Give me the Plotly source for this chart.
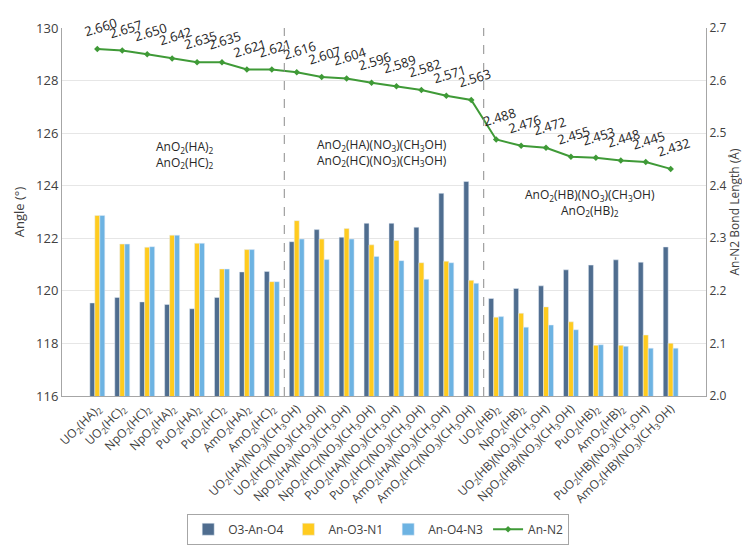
import plotly.graph_objects as go

categories = [
    "UO<sub>2</sub>(HA)<sub>2</sub>", "UO<sub>2</sub>(HC)<sub>2</sub>",
    "NpO<sub>2</sub>(HC)<sub>2</sub>", "NpO<sub>2</sub>(HA)<sub>2</sub>",
    "PuO<sub>2</sub>(HA)<sub>2</sub>", "PuO<sub>2</sub>(HC)<sub>2</sub>",
    "AmO<sub>2</sub>(HA)<sub>2</sub>", "AmO<sub>2</sub>(HC)<sub>2</sub>",
    "UO<sub>2</sub>(HA)(NO<sub>3</sub>)(CH<sub>3</sub>OH)",
    "UO<sub>2</sub>(HC)(NO<sub>3</sub>)(CH<sub>3</sub>OH)",
    "NpO<sub>2</sub>(HA)(NO<sub>3</sub>)(CH<sub>3</sub>OH)",
    "NpO<sub>2</sub>(HC)(NO<sub>3</sub>)(CH<sub>3</sub>OH)",
    "PuO<sub>2</sub>(HA)(NO<sub>3</sub>)(CH<sub>3</sub>OH)",
    "PuO<sub>2</sub>(HC)(NO<sub>3</sub>)(CH<sub>3</sub>OH)",
    "AmO<sub>2</sub>(HA)(NO<sub>3</sub>)(CH<sub>3</sub>OH)",
    "AmO<sub>2</sub>(HC)(NO<sub>3</sub>)(CH<sub>3</sub>OH)",
    "UO<sub>2</sub>(HB)<sub>2</sub>", "NpO<sub>2</sub>(HB)<sub>2</sub>",
    "UO<sub>2</sub>(HB)(NO<sub>3</sub>)(CH<sub>3</sub>OH)",
    "NpO<sub>2</sub>(HB)(NO<sub>3</sub>)(CH<sub>3</sub>OH)",
    "PuO<sub>2</sub>(HB)<sub>2</sub>", "AmO<sub>2</sub>(HB)<sub>2</sub>",
    "PuO<sub>2</sub>(HB)(NO<sub>3</sub>)(CH<sub>3</sub>OH)",
    "AmO<sub>2</sub>(HB)(NO<sub>3</sub>)(CH<sub>3</sub>OH)",
]

o3_an_o4 = [119.54, 119.75, 119.58, 119.48, 119.32, 119.75, 120.72, 120.74,
            121.87, 122.33, 122.04, 122.57, 122.57, 122.42, 123.71, 124.16,
            119.71, 120.09, 120.19, 120.80, 120.98, 121.18, 121.09, 121.67]
an_o3_n1 = [122.87, 121.78, 121.66, 122.12, 121.81, 120.83, 121.57, 120.35,
            122.67, 121.97, 122.37, 121.75, 121.92, 121.07, 121.13, 120.40,
            119.00, 119.15, 119.39, 118.82, 117.93, 117.93, 118.32, 118.01]
an_o4_n3 = [122.87, 121.78, 121.68, 122.12, 121.81, 120.83, 121.57, 120.35,
            121.97, 121.19, 121.97, 121.31, 121.15, 120.44, 121.07, 120.29,
            119.02, 118.62, 118.70, 118.52, 117.95, 117.89, 117.82, 117.82]
an_n2 = [2.660, 2.657, 2.650, 2.642, 2.635, 2.635, 2.621, 2.621,
         2.616, 2.607, 2.604, 2.596, 2.589, 2.582, 2.571, 2.563,
         2.488, 2.476, 2.472, 2.455, 2.453, 2.448, 2.445, 2.432]

group_labels = [
    "AnO<sub>2</sub>(HA)<sub>2</sub><br>AnO<sub>2</sub>(HC)<sub>2</sub>",
    "AnO<sub>2</sub>(HA)(NO<sub>3</sub>)(CH<sub>3</sub>OH)<br>AnO<sub>2</sub>(HC)(NO<sub>3</sub>)(CH<sub>3</sub>OH)",
    "AnO<sub>2</sub>(HB)(NO<sub>3</sub>)(CH<sub>3</sub>OH)<br>AnO<sub>2</sub>(HB)<sub>2</sub>",
]

FONT = "Open Sans"
TXT = "#404040"

fig = go.Figure()
fig.add_trace(go.Bar(x=categories, y=o3_an_o4, name="O3-An-O4",
                     marker_color="#4f6d8f", yaxis="y"))
fig.add_trace(go.Bar(x=categories, y=an_o3_n1, name="An-O3-N1",
                     marker_color="#ffcb1f", yaxis="y"))
fig.add_trace(go.Bar(x=categories, y=an_o4_n3, name="An-O4-N3",
                     marker_color="#6db3e2", yaxis="y"))
fig.add_trace(go.Scatter(x=categories, y=an_n2, name="An-N2", yaxis="y2",
                         mode="lines+markers",
                         line=dict(color="#3f9a37", width=2),
                         marker=dict(symbol="diamond", size=5, color="#3f9a37")))

annotations = []
for c, v in zip(categories, an_n2):
    annotations.append(dict(x=c, y=v, xref="x", yref="y2", text=f"{v:.3f}",
                            showarrow=False, textangle=-17, yshift=22, xshift=3,
                            font=dict(family=FONT, size=13, color="#262626")))

group_pos = [(3.5, 125.2), (11.4, 125.25), (19.75, 123.35)]
for (gx, gy), t in zip(group_pos, group_labels):
    annotations.append(dict(x=gx, y=gy, xref="x", yref="y", text=t,
                            showarrow=False,
                            font=dict(family=FONT, size=12, color="#262626")))

shapes = []
for xd in (7.5, 15.5):
    shapes.append(dict(type="line", xref="x", yref="paper", x0=xd, x1=xd,
                       y0=0, y1=1, line=dict(color="#8c8c8c", width=1, dash="dash")))

fig.update_layout(
    width=750, height=548,
    margin=dict(l=52, r=52, t=11, b=152),
    paper_bgcolor="white", plot_bgcolor="white",
    font=dict(family=FONT, size=12, color=TXT),
    barmode="group", bargap=0.4, bargroupgap=0,
    showlegend=True,
    legend=dict(orientation="h", x=0.491, xanchor="center", y=-0.362,
                yanchor="middle", bordercolor="#a6a6a6", borderwidth=1,
                font=dict(family=FONT, size=12, color=TXT), traceorder="normal"),
    xaxis=dict(type="category", tickangle=-45, showgrid=False,
               showline=True, linecolor="#a6a6a6", ticks="",
               tickfont=dict(family=FONT, size=12, color=TXT)),
    yaxis=dict(range=[116, 130], dtick=2, showgrid=True, gridcolor="#e6e6e6",
               showline=True, linecolor="#a6a6a6", zeroline=False, ticks="",
               title=dict(text="Angle (°)", font=dict(family=FONT, size=13, color=TXT),
                          standoff=8),
               tickfont=dict(family=FONT, size=13, color=TXT)),
    yaxis2=dict(range=[2.0, 2.7], dtick=0.1, overlaying="y", side="right",
                showgrid=False, showline=True, linecolor="#a6a6a6", zeroline=False,
                ticks="", tickformat=".1f",
                title=dict(text="An-N2 Bond Length (Å)",
                           font=dict(family=FONT, size=12, color=TXT), standoff=2),
                tickfont=dict(family=FONT, size=12, color=TXT)),
    annotations=annotations,
    shapes=shapes,
)

fig.write_html("out.html")
